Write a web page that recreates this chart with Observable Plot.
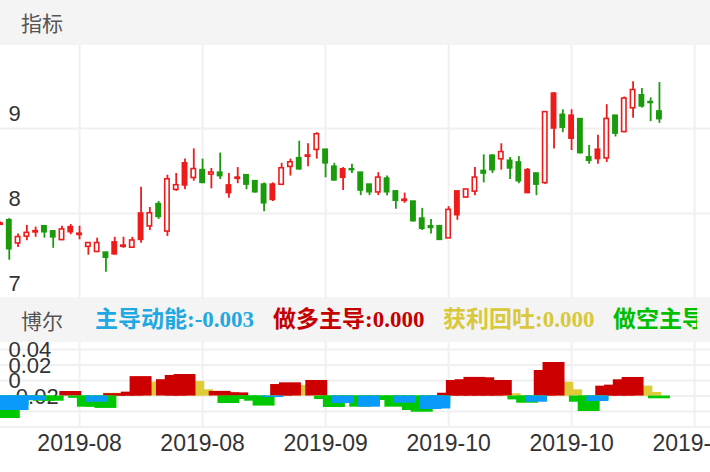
<!DOCTYPE html>
<html>
<head>
<meta charset="utf-8">
<script src="https://cdn.jsdelivr.net/npm/d3@7"></script>
<script src="https://cdn.jsdelivr.net/npm/@observablehq/plot@0.6"></script>
<style>
  html, body { margin: 0; padding: 0; background: #fff; }
  body { width: 710px; height: 472px; overflow: hidden; font-family: "Liberation Sans", Arial, sans-serif; }
  .band { position: relative; background: #f4f4f4; overflow: hidden; white-space: nowrap; }
  .band span { position: absolute; top: 0; }
  .clipper { position: absolute; left: 0; top: 0; width: 697px; height: 100%; overflow: hidden; }
  .title { font-family: "Noto Sans CJK SC", sans-serif; font-size: 21px; color: #555; left: 21px; }
  .leg { font-family: "Liberation Serif", "Noto Sans CJK SC", serif; font-weight: bold; font-size: 23px; }
  #b1 { height: 45px; } #b1 span { line-height: 45px; }
  #b2 { height: 44px; } #b2 span { line-height: 44px; }
  .plotwrap { overflow: hidden; width: 710px; }
</style>
</head>
<body>
<div class="band" id="b1"><span class="title">指标</span></div>
<div class="plotwrap" id="main"></div>
<div class="band" id="b2"><div class="clipper" id="legclip"><span class="title">博尔</span></div></div>
<div class="plotwrap" id="ind"></div>
<script>
// ---------- data ----------
const opens  = [7.87,7.92,7.65,7.73,7.78,7.85,7.79,7.69,7.84,7.75,7.61,7.55,7.54,7.66,7.61,7.60,8.00,7.85,8.11,7.79,8.28,8.59,8.42,8.51,8.46,8.48,8.33,8.41,8.45,8.38,8.34,8.34,8.34,8.55,8.65,8.67,8.75,8.75,8.55,8.52,8.52,8.48,8.34,8.25,8.41,8.26,8.15,8.14,7.94,7.85,7.85,7.71,8.26,8.19,8.26,8.50,8.68,8.64,8.62,8.60,8.51,8.47,8.36,9.41,9.16,9.15,9.11,8.66,8.75,8.65,9.15,8.96,9.24,9.39,9.31,9.20];
const closes = [7.88,7.58,7.72,7.77,7.79,7.78,7.72,7.81,7.78,7.76,7.65,7.65,7.48,7.52,7.62,7.68,7.69,8.00,7.96,8.40,8.33,8.33,8.52,8.36,8.48,8.44,8.24,8.42,8.34,8.25,8.12,8.16,8.53,8.60,8.52,8.68,8.93,8.59,8.39,8.42,8.51,8.27,8.25,8.42,8.25,8.15,8.16,7.91,7.82,7.83,7.69,8.04,7.98,8.28,8.42,8.47,8.51,8.72,8.53,8.38,8.24,8.34,9.19,9.00,9.01,8.88,8.71,8.62,8.64,9.11,8.94,9.35,9.45,9.26,9.30,9.11];
const highs  = [7.90,7.94,7.76,7.86,7.84,7.85,7.79,7.85,7.87,7.85,7.65,7.71,7.54,7.72,7.72,7.72,8.31,8.07,8.14,8.45,8.47,8.64,8.76,8.64,8.53,8.71,8.47,8.54,8.45,8.38,8.36,8.36,8.59,8.64,8.85,8.82,8.95,8.75,8.59,8.54,8.58,8.48,8.34,8.48,8.44,8.26,8.24,8.14,8.06,7.93,7.86,8.08,8.26,8.28,8.54,8.69,8.69,8.82,8.66,8.67,8.53,8.47,9.20,9.42,9.22,9.22,9.11,8.80,8.92,9.28,9.15,9.37,9.55,9.47,9.36,9.54];
const lows   = [7.86,7.45,7.60,7.68,7.72,7.71,7.59,7.68,7.75,7.69,7.51,7.54,7.31,7.51,7.59,7.59,7.65,7.80,7.93,7.73,8.26,8.28,8.38,8.35,8.29,8.40,8.18,8.35,8.28,8.24,8.02,8.14,8.34,8.44,8.51,8.55,8.64,8.42,8.38,8.27,8.47,8.21,8.21,8.21,8.21,8.05,8.12,7.90,7.80,7.76,7.69,7.71,7.92,8.18,8.21,8.36,8.47,8.51,8.40,8.35,8.24,8.21,8.34,8.76,8.95,8.74,8.70,8.58,8.58,8.60,8.90,8.95,9.12,9.24,9.08,9.06];
// 1 = 涨 (up day), 0 = 跌 (down day)
const upDay  = [1,0,1,1,1,0,0,1,1,1,1,1,0,1,1,1,1,1,0,1,1,1,1,0,1,0,1,1,0,0,0,1,1,1,0,1,1,0,0,1,0,0,0,1,0,0,1,0,0,0,0,1,1,1,1,0,0,1,0,0,1,0,1,1,0,1,0,0,1,1,0,1,1,0,0,0];

// 博尔 indicator series
const zhuDao  = [-0.0187,-0.0187,-0.0187,-0.0058,-0.0058,0,0,0,0,0,0,-0.008,0,0,0,0,0,0,0,0,0,0,0,0,0,0,0,0,0,0,0,-0.002,0,0,0,0,0,0,0,-0.0097,0,0,-0.0144,0,0,0,-0.0093,0,0,-0.0174,-0.0167,0,0,0,0,0,0,0,0,0,0,-0.008,0,0,0,0,0,0,-0.0071,0,0,0,0,0,0,0];
const zuoDuo  = [0,0,0,0,0,0,0,0,0.0058,0,0,0,0,0.003,0.002,0.005,0.025,0,0,0.021,0.0265,0.0277,0,0,0,0.006,0.004,0.004,0,0,0,0,0.0148,0.017,0,0,0.02,0,0,0,0,0,0,0,0,0,0,0,0,0,0,0.0036,0.02,0.021,0.024,0.0235,0.02,0.02,0,0,0,0,0.0329,0.0432,0,0,0,0,0,0.0127,0.014,0.0209,0.0239,0,0,0];
const huoLi   = [0,0,0,0,0,0,0,0,0,0,0,0,0,0.0035,0,0,0,0.018,0,0,0,0,0.0187,0.008,0,0,0,0,0,0,0,0,0,0,0.0135,0,0,0,0,0,0,0,0,0,0,0,0,0,0,0,0,0,0,0,0,0,0,0,0.003,0,0,0,0,0,0.0178,0.008,0,0,0,0,0,0,0,0.0127,0.0045,0];
const zuoKong = [-0.029,-0.029,-0.012,-0.006,-0.004,-0.0067,-0.0067,0,0,-0.003,-0.0144,-0.0144,-0.016,0,0,0,0,0,0,0,0,0,0,0,0,0,-0.0097,-0.0045,-0.0045,-0.0067,-0.013,0,0,0,0,0,0,-0.0045,-0.0148,-0.006,-0.006,-0.0144,-0.01,-0.0058,-0.0058,-0.0144,-0.012,-0.0187,-0.0209,-0.015,-0.01,0,0,0,0,0,0,0,0,-0.005,-0.0093,-0.005,0,0,0,0,-0.008,-0.02,-0.005,0,0,0,0,0,0,-0.0036];

const legendNames  = ["主导动能", "做多主导", "获利回吐", "做空主导"];
const legendValues = ["-0.003", "0.000", "0.000", "-0.004"];

const dateTickIndex  = [9, 23, 37, 51, 65, 79];
const dateTickLabels = ["2019-08", "2019-08", "2019-09", "2019-10", "2019-10", "2019-10"];
const priceTicks = [7, 8, 9];
const indTicks   = [0.04, 0.02, 0, -0.02];
const indGrid    = [-0.04, -0.02, 0, 0.02, 0.04, 0.06];

// ---------- build ----------
const RED = "#ee1b1b", GREEN = "#1a9b0c";
const C_BLUE = "#0a9bfa", C_RED = "#cc0000", C_YEL = "#dfcb3a", C_GRN = "#00c800";
const legendColors = ["#1fa8e2", "#c40000", "#d9c83a", "#00bf00"];
const legendLeft = [95, 273, 443, 613];

const candles = opens.map((o, i) => ({
  i, open: o, close: closes[i], high: highs[i], low: lows[i],
  col: upDay[i] ? RED : GREEN
}));
const hollow = candles.filter(d => d.close > d.open);
const solid = candles.filter(d => d.close <= d.open);

const STEP = 8.786;
const xDomain = [0, 710 / STEP];
const font = { fontFamily: "Liberation Sans, Arial, sans-serif", background: "transparent" };
const GRID = "#f0f0f0";

const main = Plot.plot({
  width: 710, height: 253, margin: 0,
  style: font,
  x: { domain: xDomain, range: [0, 710], axis: null },
  y: { domain: [7, 9.976], range: [253, 0], axis: null },
  color: { type: "identity" },
  marks: [
    Plot.ruleY(priceTicks, { stroke: GRID, strokeWidth: 2 }),
    Plot.ruleX(dateTickIndex, { stroke: GRID, strokeWidth: 2 }),
    Plot.text(priceTicks, { y: d => d, text: d => String(d), frameAnchor: "left", dx: 8, dy: -15, textAnchor: "start", fontSize: 22, fill: "#333" }),
    Plot.ruleX(candles, { x: "i", y1: "low", y2: "high", stroke: "col", strokeWidth: 1.8, clip: true }),
    Plot.rect(solid, { x1: d => d.i - 0.5, x2: d => d.i + 0.5, y1: "open", y2: "close", fill: "col",
      insetLeft: 1.45, insetRight: 1.45, insetTop: -0.8, insetBottom: -0.8, clip: true }),
    Plot.rect(hollow, { x1: d => d.i - 0.5, x2: d => d.i + 0.5, y1: "open", y2: "close", fill: "white", stroke: "col",
      strokeWidth: 1.6, insetLeft: 2.2, insetRight: 2.2, insetTop: -0.2, insetBottom: -0.2, clip: true })
  ]
});
document.getElementById("main").appendChild(main);

const legClip = document.getElementById("legclip");
legendNames.forEach((n, k) => {
  const s = document.createElement("span");
  s.className = "leg";
  s.style.left = legendLeft[k] + "px";
  s.style.color = legendColors[k];
  s.textContent = n + ":" + legendValues[k];
  legClip.appendChild(s);
});

const toBars = (arr) => arr.map((v, i) => ({ i, v })).filter(d => d.v !== 0);
const barOpts = (color) => ({ x1: d => d.i - 1.25, x2: d => d.i + 1.25, y1: 0, y2: "v", fill: color, clip: true });

const ind = Plot.plot({
  width: 710, height: 130, marginTop: 0, marginLeft: 0, marginRight: 0, marginBottom: 45,
  style: font,
  x: { domain: xDomain, range: [0, 710], axis: null },
  y: { domain: [-0.0406, 0.069], axis: null },
  marks: [
    Plot.ruleY(indGrid, { stroke: GRID, strokeWidth: 2 }),
    Plot.ruleX(dateTickIndex, { stroke: GRID, strokeWidth: 2 }),
    Plot.text(indTicks, { y: d => d, text: d => String(d), frameAnchor: "left", dx: 8, dy: -15, textAnchor: "start", fontSize: 22, fill: "#333" }),
    Plot.rect(toBars(huoLi), barOpts(C_YEL)),
    Plot.rect(toBars(zuoDuo), barOpts(C_RED)),
    Plot.rect(toBars(zuoKong), barOpts(C_GRN)),
    Plot.rect(toBars(zhuDao), barOpts(C_BLUE)),
    Plot.text(dateTickIndex, { x: d => d, text: (d, k) => dateTickLabels[k], frameAnchor: "bottom", dy: 23, fontSize: 23, fill: "#333" })
  ]
});
document.getElementById("ind").appendChild(ind);
</script>
</body>
</html>
